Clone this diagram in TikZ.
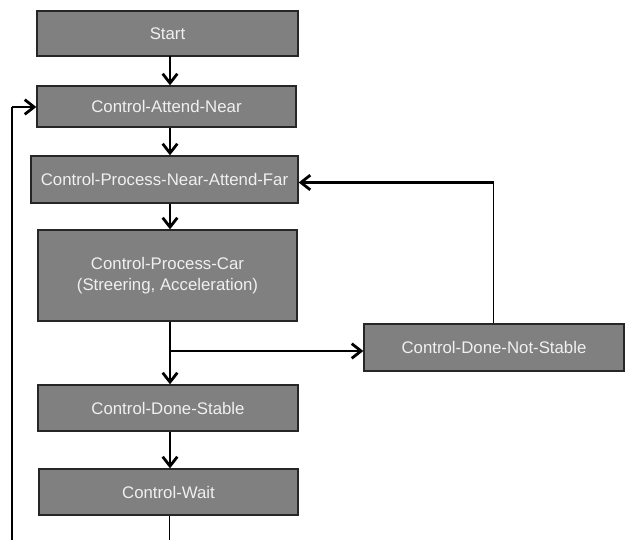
\documentclass[tikz,border=0pt]{standalone}
\usepackage{fontspec}
\setmainfont{Liberation Sans}
\usetikzlibrary{arrows.meta}
\begin{document}
\begin{tikzpicture}[x=0.75pt,y=-0.75pt,
  box/.style={draw=black!85, line width=1pt, fill=black!50, text=black!6,
    inner sep=0pt, align=center,
    font=\fontsize{12.6}{15.5}\selectfont},
  thickline/.style={line width=2.1pt},
  thinline/.style={line width=1pt},
  arr/.style={-{Straight Barb[length=7pt,width=11pt,line width=2.1pt]}}]
\useasboundingbox (0,0) rectangle (626,540);
\node[box, minimum width=261*0.75pt, minimum height=45*0.75pt] (start) at (167.5,33.5) {Start};
\node[box, minimum width=259*0.75pt, minimum height=41*0.75pt] (attend) at (166.5,106.5) {Control-Attend-Near};
\node[box, minimum width=267*0.75pt, minimum height=47*0.75pt] (pnaf) at (164.5,179.5) {Control-Process-Near-Attend-Far};
\node[box, minimum width=259*0.75pt, minimum height=91*0.75pt] (car) at (167.5,275.5) {Control-Process-Car\\(Streering, Acceleration)};
\node[box, minimum width=260*0.75pt, minimum height=47*0.75pt] (notst) at (494,347.5) {Control-Done-Not-Stable};
\node[box, minimum width=260*0.75pt, minimum height=46*0.75pt] (stable) at (168,408) {Control-Done-Stable};
\node[box, minimum width=259*0.75pt, minimum height=46*0.75pt] (wait) at (168.5,492) {Control-Wait};
\coordinate (sx) at (170,56);
\coordinate (branch) at (170,351);
\coordinate (rc) at (493.5,182.5);
\coordinate (lc) at (12,107);
\coordinate (lb) at (12,540);
\coordinate (wb) at (169.5,540);
% main flow
\draw[thickline,arr] (sx) -- (sx |- attend.north);
\draw[thickline,arr] (sx |- attend.south) -- (sx |- pnaf.north);
\draw[thickline,arr] (sx |- pnaf.south) -- (sx |- car.north);
\draw[thickline,arr] (sx |- car.south) -- (sx |- stable.north);
\draw[thickline,arr] (branch) -- (branch -| notst.west);
\draw[thickline,arr] (sx |- stable.south) -- (sx |- wait.north);
% feedback from not stable
\draw[thinline] (rc |- notst.north) -- (rc);
\draw[thickline,arr] (rc) -- (rc -| pnaf.east);
% loop from wait
\draw[thinline] (wait.south -| wb) -- (wb);
\draw[thinline] (lb) -- (lc);
\draw[thickline,arr] (lc) -- (lc -| attend.west);
\end{tikzpicture}
\end{document}
